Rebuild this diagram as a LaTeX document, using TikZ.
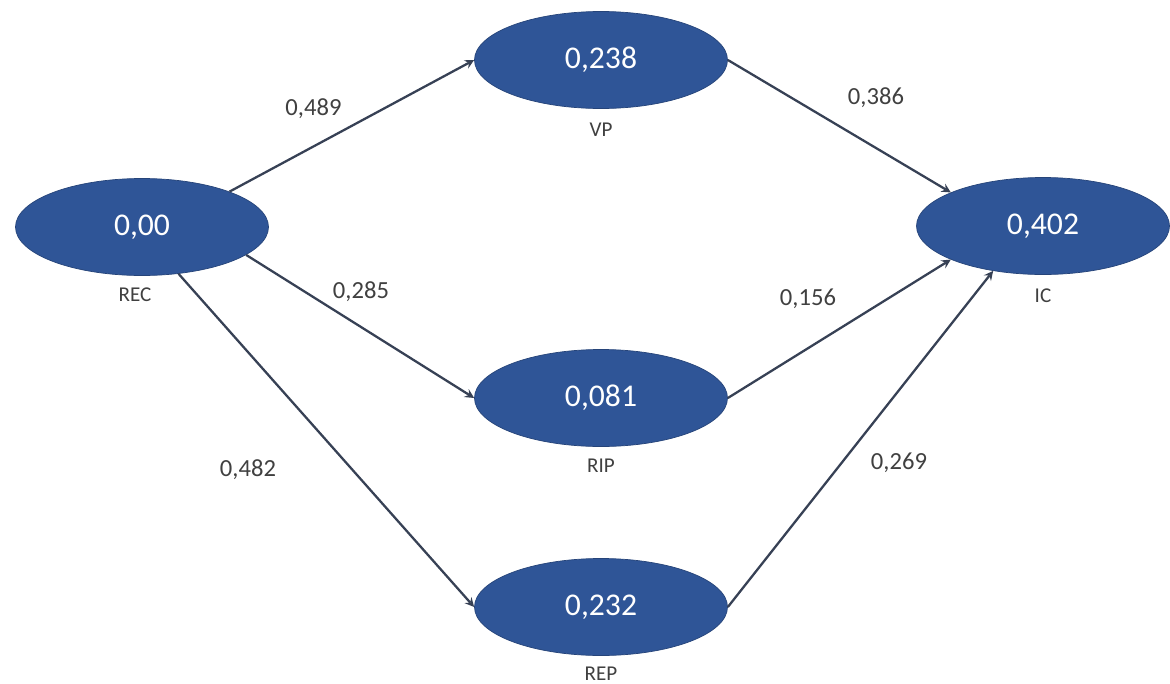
\documentclass[tikz,border=0pt]{standalone}
\usepackage{fontspec}
\setmainfont{Carlito}
\usepackage{tikz}
\usetikzlibrary{arrows,shapes.geometric}

\definecolor{construct blue}{RGB}{47,85,151}
\definecolor{path gray}{RGB}{55,65,85}

\begin{document}
\begin{tikzpicture}[scale=1]

	\tikzset{construct/.style={ellipse, fill=construct blue, draw=construct blue!80!black, thin, text=white, inner sep=0pt, minimum width=5.06cm, minimum height=1.94cm, font=\fontsize{18}{20}\selectfont}};
	\tikzset{construct name/.style={text=black!75, font=\fontsize{12}{14}\selectfont}};
	\tikzset{path coef/.style={text=black!75, font=\fontsize{14}{16}\selectfont}};
	\tikzset{path lines/.style={->, >=stealth, line width=1.3pt, color=path gray}};

	\useasboundingbox (0,0) rectangle (23.4,-13.68);

	% constructs
	\node[construct] (rec) at (2.84,-4.54) {0,00};
	\node[construct] (vp) at (12.02,-1.2) {0,238};
	\node[construct] (rip) at (12.02,-7.96) {0,081};
	\node[construct] (rep) at (12.02,-12.14) {0,232};
	\node[construct] (ic) at (20.86,-4.52) {0,402};

	\node[construct name] (rec name) at (2.7,-5.9) {REC};
	\node[construct name] (vp name) at (12.02,-2.6) {VP};
	\node[construct name] (rip name) at (12.02,-9.32) {RIP};
	\node[construct name] (rep name) at (12.02,-13.48) {REP};
	\node[construct name] (ic name) at (20.86,-5.92) {IC};

	% paths
	\draw[path lines] (rec.22) -- (vp.west);
	\draw[path lines] (rec.-15) -- (rip.west);
	\draw[path lines] (rec.-52) -- (rep.west);
	\draw[path lines] (vp.east) -- (ic.160);
	\draw[path lines] (rip.east) -- (ic.200);
	\draw[path lines] (rep.east) -- (ic.222);

	\foreach \x/\y/\coef/\name in {6.27/-2.18/{0,489}/a,7.22/-5.84/{0,285}/b,4.96/-9.4/{0,482}/c,17.52/-1.96/{0,386}/d,16.16/-5.98/{0,156}/e,17.98/-9.26/{0,269}/f}
		\node[path coef] (coef \name) at (\x,\y) {\coef};

\end{tikzpicture}
\end{document}
